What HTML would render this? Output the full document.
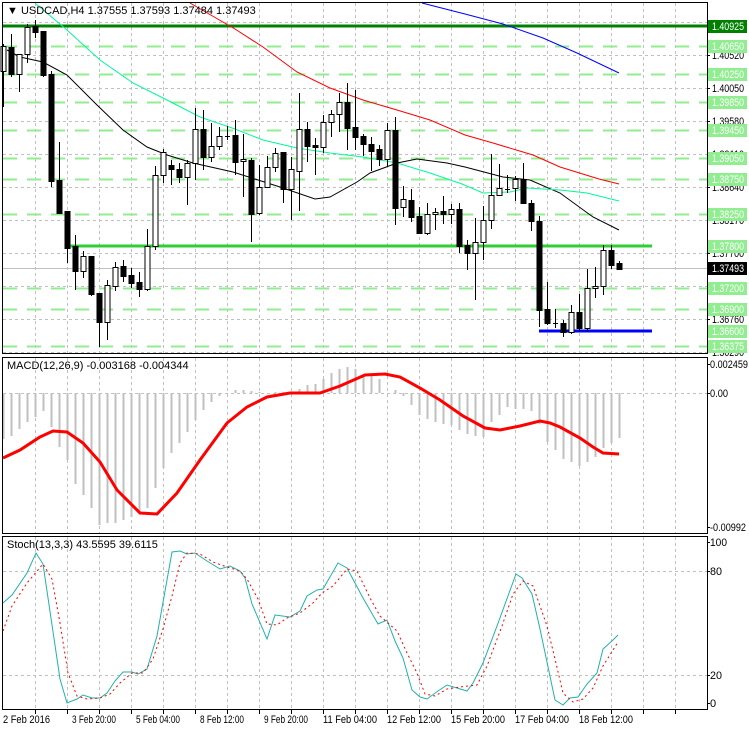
<!DOCTYPE html>
<html><head><meta charset="utf-8"><style>
body{margin:0;background:#fff;}
svg{display:block;font-family:"Liberation Sans",sans-serif;font-size:11px;}
</style></head><body>
<svg id="s" width="749" height="731" xmlns="http://www.w3.org/2000/svg">
<rect width="749" height="731" fill="#fff"/>
<g id="grid" stroke="#c0c0c0" stroke-dasharray="3,3" stroke-width="1"></g>
<g id="lev"></g>
<g id="ma" fill="none" stroke-width="1"></g>
<g id="cand"></g>
<g id="macd"></g>
<g id="stoch" fill="none"></g>
<g fill="none" stroke="#000" stroke-width="1">
<rect x="2.5" y="2.5" width="705" height="351"/>
<rect x="2.5" y="357.5" width="705" height="176"/>
<rect x="2.5" y="536.5" width="705" height="173"/>
</g>
<text x="7" y="14" font-size="11">▼ USDCAD,H4  1.37555 1.37593 1.37484 1.37493</text>
<text x="7" y="369">MACD(12,26,9) -0.003168 -0.004344</text>
<text x="7" y="548">Stoch(13,3,3) 43.5595 39.6115</text>
<g id="axis" font-size="11"></g>
<g font-size="11" lengthAdjust="spacingAndGlyphs">
<text x="3" y="723" textLength="47" lengthAdjust="spacingAndGlyphs">2 Feb 2016</text>
<text x="72" y="723" textLength="44" lengthAdjust="spacingAndGlyphs">3 Feb 20:00</text>
<text x="136" y="723" textLength="44" lengthAdjust="spacingAndGlyphs">5 Feb 04:00</text>
<text x="200" y="723" textLength="44" lengthAdjust="spacingAndGlyphs">8 Feb 12:00</text>
<text x="264" y="723" textLength="44" lengthAdjust="spacingAndGlyphs">9 Feb 20:00</text>
<text x="323" y="723" textLength="54" lengthAdjust="spacingAndGlyphs">11 Feb 04:00</text>
<text x="387" y="723" textLength="54" lengthAdjust="spacingAndGlyphs">12 Feb 12:00</text>
<text x="451" y="723" textLength="54" lengthAdjust="spacingAndGlyphs">15 Feb 20:00</text>
<text x="515" y="723" textLength="54" lengthAdjust="spacingAndGlyphs">17 Feb 04:00</text>
<text x="579" y="723" textLength="54" lengthAdjust="spacingAndGlyphs">18 Feb 12:00</text>
</g>
<g id="rl" font-size="11"></g>
<g id="boxes" font-size="11"></g>
</svg>
<script>
var NS="http://www.w3.org/2000/svg";
function el(p,t,a,txt){var e=document.createElementNS(NS,t);for(var k in a)e.setAttribute(k,a[k]);if(txt)e.textContent=txt;document.getElementById(p).appendChild(e);return e;}
[["1.40520",59],["1.40050",92],["1.39580",125],["1.39110",158],["1.38640",191],["1.38170",224],["1.37700",257],["1.37230",290],["1.36760",323],["1.36290",356]].forEach(function(l){el("rl","text",{x:712,y:l[1],textLength:32,lengthAdjust:"spacingAndGlyphs"},l[0]);});
el("rl","text",{x:710,y:368,textLength:38,lengthAdjust:"spacingAndGlyphs"},"0.002459");
el("rl","text",{x:710,y:397,textLength:18,lengthAdjust:"spacingAndGlyphs"},"0.00");
el("rl","text",{x:710,y:531,textLength:36,lengthAdjust:"spacingAndGlyphs"},"-0.00992");
el("rl","text",{x:710,y:546,textLength:17,lengthAdjust:"spacingAndGlyphs"},"100");
el("rl","text",{x:710,y:575,textLength:12,lengthAdjust:"spacingAndGlyphs"},"80");
el("rl","text",{x:710,y:679,textLength:12,lengthAdjust:"spacingAndGlyphs"},"20");
el("rl","text",{x:710,y:707},"0");
for(var x=35;x<707;x+=32){[[3,353],[358,533],[537,709]].forEach(function(r){el("grid","line",{x1:x+.5,y1:r[0],x2:x+.5,y2:r[1]});});
 el("grid","line",{x1:x+.5,y1:710,x2:x+.5,y2:714,"stroke-dasharray":"none",stroke:"#000"});}
[22,55,88,121,154,187,220,253,286,319,352].forEach(function(y){el("grid","line",{x1:3,y1:y+.5,x2:707,y2:y+.5});});
[393,571,675].forEach(function(y){el("grid","line",{x1:3,y1:y+.5,x2:707,y2:y+.5});});
[55,88,121,154,187,220,253,286,319,352,364,393,527,542,571,675,703].forEach(function(y){el("axis","line",{x1:707,y1:y+.5,x2:710,y2:y+.5,stroke:"#000"});});
[46,74,102,130,158,179,214,288,309,346].forEach(function(y){el("lev","line",{x1:3,y1:y+.5,x2:707,y2:y+.5,stroke:"#90ee90","stroke-width":2,"stroke-dasharray":"14,10"});});
el("lev","line",{x1:3,y1:268.5,x2:707,y2:268.5,stroke:"#c0c0c0","stroke-width":1});
el("lev","line",{x1:3,y1:26,x2:707,y2:26,stroke:"#008000","stroke-width":3});
el("lev","line",{x1:67,y1:246,x2:652,y2:246,stroke:"#32cd32","stroke-width":3});
el("lev","line",{x1:539,y1:331,x2:652,y2:331,stroke:"#0000ff","stroke-width":3});
function pl(p,pts,st,extra){var a={points:pts,stroke:st,fill:"none"};for(var k in extra)a[k]=extra[k];el(p,"polyline",a);}
pl("ma","7,50 20,57 43,62 67,75 97,105 123,130 147,147 167,155 193,163 233,172 280,187 315,199 330,197 357,182 370,173 397,163 417,159 447,163 465,167 503,177 530,180 560,193 593,217 619,230","#000");
pl("ma","35,3 67,30 100,60 133,83 167,100 200,117 235,129 263,140 297,148 330,153 363,157 397,163 430,173 462,184 483,193 510,192 527,188 560,190 587,193 619,201","#00fa9a");
pl("ma","190,3 235,29 263,47 297,72 330,88 363,100 397,110 430,120 465,135 493,143 533,155 560,167 599,179 619,184","#ff0000");
pl("ma","422,3 465,14 503,24 543,38 577,53 619,73","#0000ff");
var C=[[1,46,71,44,107],[0,47,74,34,77],[1,54,74,54,92],[1,27,54,24,63],[0,26,32,20,38],[0,31,75,31,77],[0,74,181,71,187],[0,180,213,142,213],[0,211,248,211,263],[0,246,271,235,290],
[1,256,271,251,278],[0,256,294,256,296],[0,293,322,293,347],[1,285,322,280,340],[1,267,286,262,291],[0,266,276,260,282],[0,275,283,268,288],[0,282,289,272,297],[1,246,289,229,291],[1,175,246,166,250],
[1,152,175,149,183],[0,165,169,160,185],[0,169,177,163,183],[1,163,177,160,205],[1,129,163,108,180],[0,129,157,110,170],[1,146,157,123,162],[1,136,146,127,150],[2,136,136,126,140],[0,135,162,120,175],
[1,159,161,134,197],[0,160,214,158,242],[1,187,213,165,215],[1,167,187,156,188],[1,153,167,148,172],[0,152,189,152,203],[1,169,189,157,220],[1,129,171,93,211],[0,129,146,122,162],[0,145,147,138,175],
[1,122,147,115,153],[1,114,122,110,137],[1,102,114,93,132],[0,102,128,83,150],[0,127,137,90,150],[0,136,144,134,156],[0,144,151,137,171],[0,149,159,145,166],[1,130,159,123,166],[0,130,208,117,225],
[1,199,207,186,217],[0,200,217,189,222],[0,216,233,207,233],[1,214,233,203,235],[1,212,214,208,230],[0,211,214,196,224],[1,209,214,204,224],[0,209,246,203,253],[0,245,253,240,270],[1,242,253,218,300],
[1,220,242,206,260],[1,195,220,154,229],[1,188,195,164,195],[2,189,189,175,193],[1,179,188,176,201],[0,179,203,163,204],[0,203,221,200,231],[0,221,310,216,327],[0,309,323,282,325],[2,323,323,309,328],
[0,323,332,320,337],[1,312,332,305,334],[0,312,328,294,332],[1,288,328,269,332],[1,286,288,267,298],[1,250,286,245,295],[0,250,265,245,269],[0,263,269,261,269]];
C.forEach(function(c,i){var x=3+8*i;
 el("cand","line",{x1:x+.5,y1:c[3],x2:x+.5,y2:c[4],stroke:"#000"});
 if(c[0]==2){el("cand","line",{x1:x-2,y1:c[1]+.5,x2:x+3,y2:c[1]+.5,stroke:"#000"});}
 else el("cand","rect",{x:x-2,y:c[1]+.5,width:5,height:Math.max(1,c[2]-c[1]),fill:c[0]?"#fff":"#000",stroke:"#000"});
});
var H=[439,436,429,422,417,411,427,447,460,484,495,508,525,523,523,520,517,513,508,488,468,453,443,432,420,410,402,
396,393,390,390,391,392,393,392,392,
392,389,385,384,379,373,369,367,369,374,375,379,393,390,396,405,415,419,422,424,425,430,434,436,437,422,415,407,409,409,411,424,442,450,459,
462,466,462,457,448,443,438];
H.forEach(function(y,i){var x=3+8*i+.5;el("macd","line",{x1:x,y1:393,x2:x,y2:y,stroke:"#c0c0c0","stroke-width":2});});
pl("macd","3,458 20,450 40,437 53,431 67,432 83,443 100,462 117,490 140,513 157,514 177,493 200,460 227,423 247,407 267,397 290,393 320,393 340,386 365,375 385,374 400,377 420,388 440,400 463,416 485,428 500,430 520,426 540,421 550,423 560,427 580,438 593,447 603,453 619,454","#ff0000",{"stroke-width":3});
pl("stoch","3,603 12,595 27,573 36,553 43,564 60,679 67,703 77,699 83,695 92,698 100,698 107,693 115,681 123,672 132,672 138,674 147,669 157,636 172,552 180,551 187,554 195,553 207,561 220,569 230,566 240,571 245,578 252,604 267,639 275,615 290,617 300,611 307,596 317,590 323,589 338,563 347,568 363,598 378,624 387,620 395,641 403,658 412,690 420,697 427,699 438,691 447,685 457,688 467,691 473,683 483,663 497,626 516,574 522,578 532,594 540,629 555,700 563,705 570,698 578,697 587,684 597,673 603,649 612,641 618,635","#20b2aa");
pl("stoch","3,631 12,606 27,583 43,564 52,579 60,623 68,673 77,696 87,699 100,698 110,694 120,683 132,673 143,673 153,659 163,629 172,596 180,563 187,553 200,554 213,562 227,567 240,571 247,579 258,599 267,624 277,625 287,618 300,613 313,603 322,593 333,586 347,569 357,571 370,598 380,616 397,631 407,653 417,673 425,694 435,696 447,689 460,687 477,685 487,666 502,626 513,594 523,581 533,586 547,626 555,659 563,693 573,702 583,699 593,688 603,666 618,642","#ff0000",{"stroke-dasharray":"2,3"});
[["1.40925",26,"#008000"],["1.40650",46,"#90ee90"],["1.40250",74,"#90ee90"],["1.39850",102,"#90ee90"],["1.39450",130,"#90ee90"],["1.39050",158,"#90ee90"],["1.38750",179,"#90ee90"],["1.38250",214,"#90ee90"],["1.37800",246,"#90ee90"],["1.37493",268,"#000"],["1.37200",288,"#90ee90"],["1.36900",309,"#90ee90"],["1.36600",331,"#90ee90"],["1.36375",346,"#90ee90"]].forEach(function(b){
 el("boxes","rect",{x:708,y:b[1]-6,width:39,height:13,fill:b[2]});
 el("boxes","text",{x:712,y:b[1]+4,fill:"#fff",textLength:32,lengthAdjust:"spacingAndGlyphs"},b[0]);
});
</script>
</body></html>
